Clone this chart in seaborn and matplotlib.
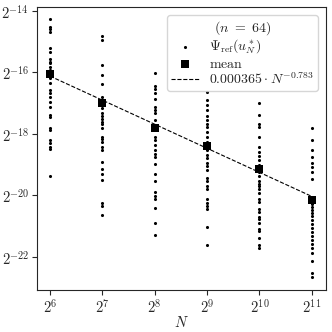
import numpy as np
import pandas as pd
import matplotlib
matplotlib.use("Agg")
import matplotlib.pyplot as plt
import seaborn as sns
from matplotlib.ticker import FixedLocator, FuncFormatter, NullLocator

# log2 of N for each column
log_n = [6, 7, 8, 9, 10, 11]

# log2 of Psi_ref values per N
psi_log2 = {
    6: [-14.26, -14.52, -14.59, -14.68, -15.20, -15.33, -15.56, -15.66, -15.69,
        -15.82, -15.92, -16.18, -16.34, -16.57, -16.67, -16.80, -16.96, -17.12,
        -17.38, -17.45, -17.80, -17.87, -18.20, -18.29, -18.42, -18.49, -19.37],
    7: [-14.81, -14.94, -15.76, -16.08, -16.37, -16.80, -16.89, -17.15, -17.32,
        -17.41, -17.51, -17.61, -17.67, -17.80, -18.10, -18.16, -18.26, -18.42,
        -18.52, -18.91, -19.14, -19.30, -19.50, -20.24, -20.34, -20.63],
    8: [-16.02, -16.44, -16.54, -16.67, -16.86, -17.12, -17.22, -17.32, -17.54,
        -17.75, -18.10, -18.20, -18.36, -18.52, -18.65, -18.75, -18.98, -19.30,
        -19.53, -19.89, -20.02, -20.11, -20.41, -20.89, -21.28],
    9: [-16.63, -16.89, -17.06, -17.22, -17.41, -17.54, -17.67, -17.77, -17.93,
        -18.10, -18.26, -18.52, -18.68, -18.78, -18.94, -19.04, -19.17, -19.43,
        -19.53, -19.69, -19.79, -20.11, -20.24, -20.34, -20.44, -21.02, -21.61],
    10: [-16.99, -17.38, -17.67, -17.77, -18.10, -18.42, -18.59, -18.72, -18.85,
         -19.01, -19.24, -19.37, -19.53, -19.63, -19.69, -19.79, -19.92, -20.11,
         -20.21, -20.44, -20.54, -20.70, -20.76, -20.89, -21.09, -21.15, -21.38,
         -21.61, -21.71],
    11: [-17.80, -18.20, -18.52, -18.75, -18.94, -19.07, -19.24, -19.46, -20.28,
         -20.37, -20.47, -20.57, -20.67, -20.80, -20.93, -21.06, -21.19, -21.32,
         -21.45, -21.58, -21.71, -21.87, -22.13, -22.52, -22.65],
}

# log2 of the mean per N
mean_log2 = [-16.05, -16.99, -17.80, -18.39, -19.14, -20.15]

# fit from the legend
fit_coef = 0.000365
fit_exp = -0.783

# build tables
rows = []
for k, vals in psi_log2.items():
    for v in vals:
        rows.append({"N": 2.0 ** k, "psi": 2.0 ** v})
points = pd.DataFrame(rows)

means = pd.DataFrame({
    "N": [2.0 ** k for k in log_n],
    "psi": [2.0 ** v for v in mean_log2],
})
fit = pd.DataFrame({"N": means["N"], "psi": fit_coef * means["N"] ** fit_exp})

sns.set_style("ticks")
plt.rcParams["mathtext.fontset"] = "cm"
plt.rcParams["font.family"] = ["DejaVu Serif"]
plt.rcParams["font.size"] = 10

fig = plt.figure(figsize=(3.32, 3.32), dpi=100)
ax = fig.add_axes([0.111, 0.127, 0.871, 0.852])

sns.scatterplot(data=points, x="N", y="psi", ax=ax, color="black", s=5,
                linewidth=0, label=r"$\Psi_{\mathrm{ref}}(u_N^*)$", zorder=2)
sns.scatterplot(data=means, x="N", y="psi", ax=ax, color="black", marker="s",
                s=32, linewidth=0, label=r"$\mathrm{mean}$", zorder=3)
sns.lineplot(data=fit, x="N", y="psi", ax=ax, color="black", linestyle="--",
             linewidth=0.8, label=r"$0.000365 \cdot N^{-0.783}$", zorder=2)

ax.set_xscale("log", base=2)
ax.set_yscale("log", base=2)
ax.set_xlim(2 ** 5.75, 2 ** 11.27)
ax.set_ylim(2 ** -23.07, 2 ** -13.87)

ax.xaxis.set_major_locator(FixedLocator([2.0 ** k for k in log_n]))
ax.yaxis.set_major_locator(FixedLocator([2.0 ** k for k in range(-22, -13, 2)]))
ax.xaxis.set_minor_locator(NullLocator())
ax.yaxis.set_minor_locator(NullLocator())
fmt = FuncFormatter(lambda v, pos: r"$2^{%d}$" % round(np.log2(v)))
ax.xaxis.set_major_formatter(fmt)
ax.yaxis.set_major_formatter(fmt)
ax.tick_params(labelsize=10.5, length=3.5, width=0.8, pad=2)

ax.set_xlabel(r"$N$", fontsize=10.5, labelpad=0)
ax.set_ylabel("")

ax.legend(title=r"$(n\ =\ 64)$", loc="upper right", fontsize=10,
          title_fontsize=10, handlelength=2.0, borderpad=0.3,
          labelspacing=0.05, handletextpad=0.7, borderaxespad=0.6)

for s in ax.spines.values():
    s.set_visible(True)
    s.set_linewidth(0.8)

fig.savefig("out.png", dpi=100)
